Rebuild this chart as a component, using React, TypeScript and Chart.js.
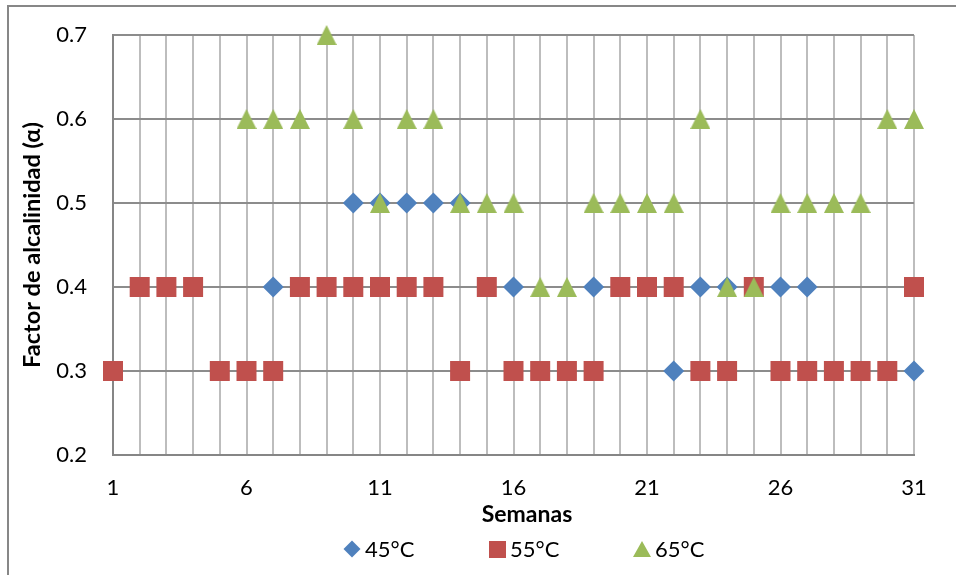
import React, { useEffect, useRef } from "react";
import { Chart, registerables } from "chart.js";

Chart.register(...registerables);

// ---- data ----
const weeks = [1, 2, 3, 4, 5, 6, 7, 8, 9, 10, 11, 12, 13, 14, 15, 16, 17, 18, 19, 20, 21, 22, 23, 24, 25, 26, 27, 28, 29, 30, 31];
const seriesNames = ["45°C", "55°C", "65°C"];
const alpha45 = [null, null, null, null, null, null, 0.4, null, null, 0.5, 0.5, 0.5, 0.5, 0.5, null, 0.4, null, null, 0.4, null, null, 0.3, 0.4, 0.4, null, 0.4, 0.4, null, null, null, 0.3];
const alpha55 = [0.3, 0.4, 0.4, 0.4, 0.3, 0.3, 0.3, 0.4, 0.4, 0.4, 0.4, 0.4, 0.4, 0.3, 0.4, 0.3, 0.3, 0.3, 0.3, 0.4, 0.4, 0.4, 0.3, 0.3, 0.4, 0.3, 0.3, 0.3, 0.3, 0.3, 0.4];
const alpha65 = [null, null, null, null, null, 0.6, 0.6, 0.6, 0.7, 0.6, 0.5, 0.6, 0.6, 0.5, 0.5, 0.5, 0.4, 0.4, 0.5, 0.5, 0.5, 0.5, 0.6, 0.4, 0.4, 0.5, 0.5, 0.5, 0.5, 0.6, 0.6];
const xTickLabels = [1, 6, 11, 16, 21, 26, 31];
const yTicks = [0.2, 0.3, 0.4, 0.5, 0.6, 0.7];

const xTitle = "Semanas";
const yTitle = "Factor de alcalinidad (α)";

const colors = ["#4F81BD", "#C0504D", "#9BBB59"];
const FONT = "Lato";

function toPoints(vals: (number | null)[]) {
  const out: { x: number; y: number }[] = [];
  vals.forEach((v, i) => {
    if (v !== null) out.push({ x: weeks[i], y: v });
  });
  return out;
}

function makeTriangle(color: string, w: number, h: number) {
  const c = document.createElement("canvas");
  c.width = w;
  c.height = h;
  const g = c.getContext("2d")!;
  g.fillStyle = color;
  g.beginPath();
  g.moveTo(w / 2, 0);
  g.lineTo(w, h);
  g.lineTo(0, h);
  g.closePath();
  g.fill();
  return c;
}

export default function App() {
  const ref = useRef<HTMLCanvasElement | null>(null);

  useEffect(() => {
    document.body.style.margin = "0";
    const canvas = ref.current;
    if (!canvas) return;
    const tri = makeTriangle(colors[2], 20, 20);
    const chart = new Chart(canvas, {
      type: "scatter",
      data: {
        datasets: [
          {
            label: seriesNames[0],
            data: toPoints(alpha45),
            pointStyle: "rectRot",
            pointRadius: 10.5,
            pointHoverRadius: 10.5,
            backgroundColor: colors[0],
            borderColor: colors[0],
            borderWidth: 0,
            order: 3,
            clip: false,
          },
          {
            label: seriesNames[1],
            data: toPoints(alpha55),
            pointStyle: "rect",
            pointRadius: 14.14,
            pointHoverRadius: 14.14,
            backgroundColor: colors[1],
            borderColor: colors[1],
            borderWidth: 0,
            order: 2,
            clip: false,
          },
          {
            label: seriesNames[2],
            data: toPoints(alpha65),
            pointStyle: tri as any,
            pointRadius: 10,
            pointHoverRadius: 10,
            backgroundColor: colors[2],
            borderColor: colors[2],
            borderWidth: 0,
            order: 1,
            clip: false,
          },
        ],
      },
      options: {
        animation: false,
        responsive: false,
        devicePixelRatio: 1,
        layout: { padding: { left: 0, right: 42, top: 35, bottom: 0 } },
        plugins: {
          legend: { display: false },
          tooltip: { enabled: false },
        },
        scales: {
          x: {
            type: "linear",
            min: weeks[0],
            max: weeks[weeks.length - 1],
            afterFit: (s: any) => {
              s.height = 120;
            },
            ticks: {
              stepSize: 1,
              autoSkip: false,
              maxRotation: 0,
              padding: 20,
              color: "#000",
              font: { family: FONT, size: 22 },
              callback: (v: any) => (xTickLabels.includes(Number(v)) ? String(v) : ""),
            },
            grid: { color: "#BDBDBD", lineWidth: 2, drawTicks: false },
            border: { color: "#868686", width: 2 },
          },
          y: {
            min: yTicks[0],
            max: yTicks[yTicks.length - 1],
            afterFit: (s: any) => {
              s.width = 113;
            },
            ticks: {
              stepSize: 0.1,
              padding: 26,
              color: "#000",
              font: { family: FONT, size: 22, lineHeight: 0.3 },
              callback: (v: any) => Number(v).toFixed(1),
            },
            grid: { color: "#8C8C8C", lineWidth: 2, drawTicks: false },
            border: { color: "#868686", width: 2 },
            title: {
              display: true,
              text: yTitle,
              color: "#000",
              font: { family: FONT, size: 23.5, weight: "bold" },
              padding: { top: 18, bottom: 0 },
            },
          },
        },
      },
    });
    return () => chart.destroy();
  }, []);

  const legendX = [342, 487, 632];
  return (
    <div style={{ position: "relative", width: 956, height: 575, overflow: "hidden", fontFamily: FONT }}>
      <div
        style={{
          position: "absolute",
          left: 7,
          top: 5,
          width: 960,
          height: 580,
          borderLeft: "2px solid #878787",
          borderTop: "2px solid #878787",
        }}
      />
      <canvas ref={ref} width={956} height={575} style={{ position: "absolute", left: 0, top: 0, width: 956, height: 575 }} />
      <div
        style={{
          position: "absolute",
          left: 427,
          top: 502,
          width: 200,
          textAlign: "center",
          fontSize: 23,
          lineHeight: "23px",
          fontWeight: "bold",
          color: "#000",
        }}
      >
        {xTitle}
      </div>
      {seriesNames.map((name, i) => (
        <div
          key={name}
          style={{
            position: "absolute",
            left: legendX[i],
            top: 538,
            height: 22,
            display: "flex",
            alignItems: "center",
            fontSize: 22,
            lineHeight: "22px",
            color: "#000",
          }}
        >
          <div style={{ width: 20, height: 22, position: "relative" }}>
            {i === 0 && (
              <div
                style={{
                  position: "absolute",
                  left: 4,
                  top: 5,
                  width: 12,
                  height: 12,
                  background: colors[0],
                  transform: "rotate(45deg)",
                }}
              />
            )}
            {i === 1 && (
              <div style={{ position: "absolute", left: 1.5, top: 2.5, width: 17, height: 17, background: colors[1] }} />
            )}
            {i === 2 && (
              <div
                style={{
                  position: "absolute",
                  left: 1,
                  top: 3,
                  width: 0,
                  height: 0,
                  borderLeft: "9px solid transparent",
                  borderRight: "9px solid transparent",
                  borderBottom: "16px solid " + colors[2],
                }}
              />
            )}
          </div>
          <span style={{ marginLeft: 3 }}>{name}</span>
        </div>
      ))}
    </div>
  );
}
